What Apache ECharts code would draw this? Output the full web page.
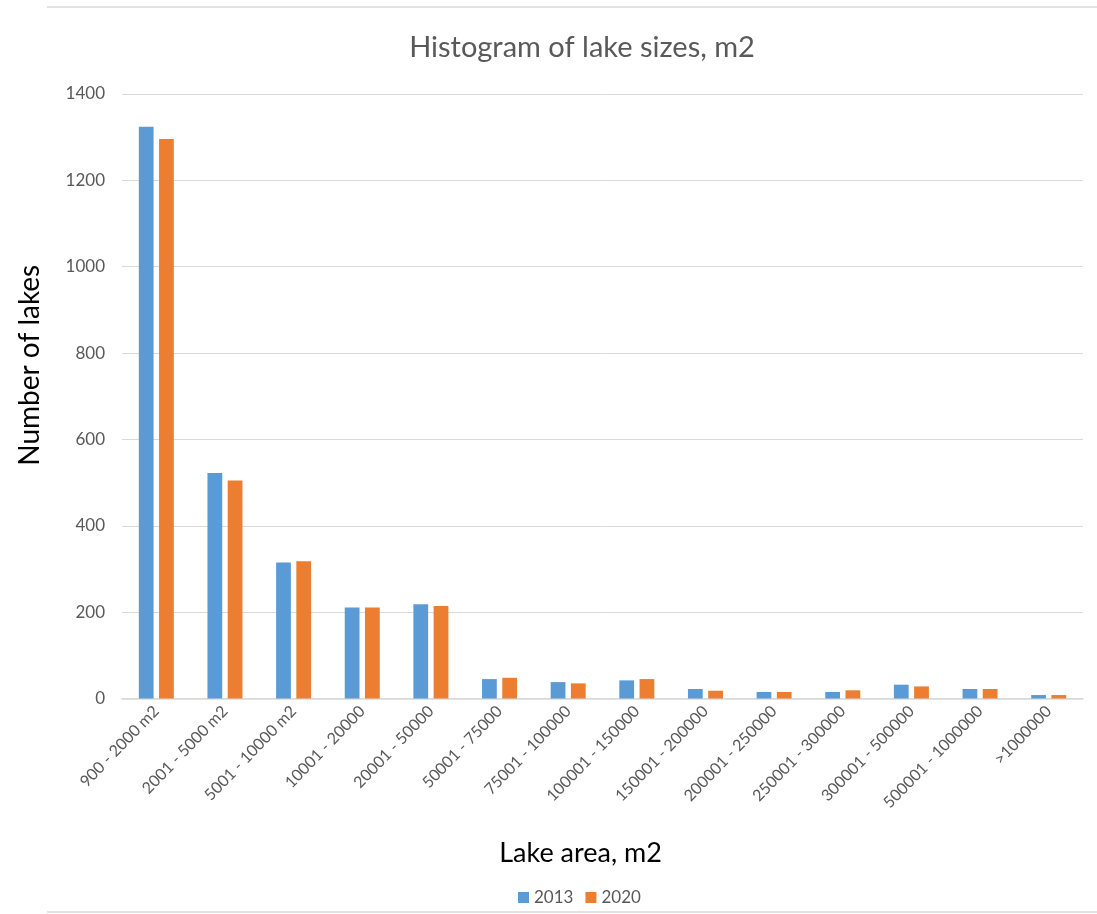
<!DOCTYPE html>
<html>
<head>
<meta charset="utf-8">
<script src="https://cdn.jsdelivr.net/npm/echarts@6/dist/echarts.min.js"></script>
<style>
  html, body { margin: 0; padding: 0; background: #ffffff; }
  #chart { width: 1097px; height: 914px; }
</style>
</head>
<body>
<div id="chart"></div>
<script>
// Lake area bins (m2)
const categories = [
  '900 - 2000 m2', '2001 - 5000 m2', '5001 - 10000 m2', '10001 - 20000',
  '20001 - 50000', '50001 - 75000', '75001 - 100000', '100001 - 150000',
  '150001 - 200000', '200001 - 250000', '250001 - 300000', '300001 - 500000',
  '500001 - 1000000', '>1000000'
];
// Number of lakes per bin
const lakes2013 = [1324, 522, 315, 211, 218, 45, 38, 42, 22, 15, 15, 32, 22, 8];
const lakes2020 = [1296, 505, 318, 211, 214, 48, 35, 45, 18, 15, 19, 28, 22, 8];
const yTicks = { min: 0, max: 1400, interval: 200 };

const fontFamily = 'Lato, "Open Sans", sans-serif';
const chart = echarts.init(document.getElementById('chart'), null, { renderer: 'canvas' });

chart.setOption({
  backgroundColor: '#ffffff',
  animation: false,
  title: {
    text: 'Histogram of lake sizes, m2',
    left: 577,
    top: 28,
    textAlign: 'center',
    textStyle: { color: '#595959', fontSize: 29, fontWeight: 'normal', fontFamily }
  },
  legend: {
    top: 884,
    left: 513,
    itemWidth: 11,
    itemHeight: 11,
    itemGap: 12,
    icon: 'rect',
    textStyle: { color: '#595959', fontSize: 17, fontFamily },
    data: ['2013', '2020']
  },
  grid: { left: 122, right: 14, top: 94, bottom: 215.5, containLabel: false },
  xAxis: {
    type: 'category',
    data: categories,
    name: 'Lake area, m2',
    nameLocation: 'middle',
    nameGap: 141,
    nameTextStyle: { color: '#000000', fontSize: 27, fontFamily, padding: [0, 44, 0, 0] },
    axisLine: { lineStyle: { color: '#d9d9d9', width: 1.5 } },
    axisTick: { show: false },
    axisLabel: { rotate: 46, interval: 0, color: '#595959', fontSize: 16, fontFamily, margin: 10 }
  },
  yAxis: {
    type: 'value',
    min: yTicks.min,
    max: yTicks.max,
    interval: yTicks.interval,
    name: 'Number of lakes',
    nameLocation: 'middle',
    nameGap: 78,
    nameRotate: 90,
    nameTextStyle: { color: '#000000', fontSize: 28, fontFamily, padding: [0, 0, 0, 62] },
    axisLine: { show: false },
    axisTick: { show: false },
    axisLabel: { color: '#595959', fontSize: 17, fontFamily, margin: 17, formatter: (v) => String(v) },
    splitLine: { lineStyle: { color: '#d9d9d9', width: 1 } }
  },
  series: [
    {
      name: '2013', type: 'bar', data: lakes2013,
      itemStyle: { color: '#5b9bd5' },
      barGap: '37%', barCategoryGap: '49%'
    },
    {
      name: '2020', type: 'bar', data: lakes2020,
      itemStyle: { color: '#ed7d31' },
      barGap: '37%', barCategoryGap: '49%'
    }
  ],
  graphic: [
    { type: 'line', shape: { x1: 47, y1: 7, x2: 1097, y2: 7 }, style: { stroke: '#d9d9d9', lineWidth: 1.5 } },
    { type: 'line', shape: { x1: 47, y1: 912, x2: 1097, y2: 912 }, style: { stroke: '#d9d9d9', lineWidth: 1.5 } }
  ]
});
</script>
</body>
</html>
